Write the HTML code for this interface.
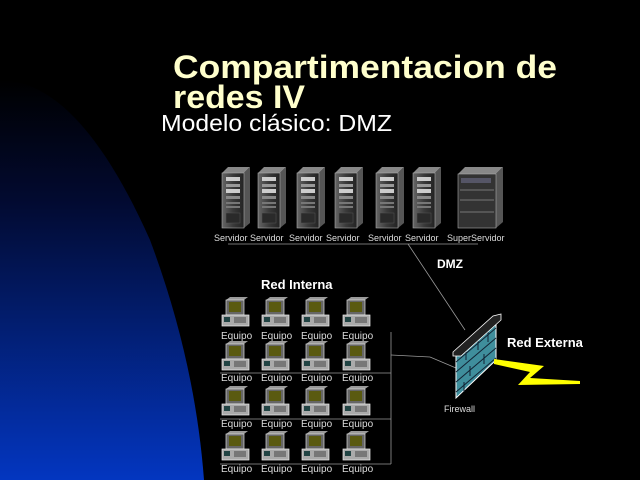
<!DOCTYPE html>
<html><head><meta charset="utf-8"><style>
html,body{margin:0;padding:0;background:#000;}
svg{display:block}
text{font-family:"Liberation Sans",sans-serif}
</style></head><body>
<svg width="640" height="480" viewBox="0 0 640 480" xmlns="http://www.w3.org/2000/svg">
<defs>
<linearGradient id="bg" x1="0" y1="0" x2="0" y2="1">
<stop offset="0" stop-color="#000"/>
<stop offset="0.3" stop-color="#020a30"/>
<stop offset="1" stop-color="#0336c0"/>
</linearGradient>
<linearGradient id="tw" x1="0" y1="0" x2="1" y2="0">
<stop offset="0" stop-color="#666"/><stop offset="0.5" stop-color="#3a3a3a"/><stop offset="1" stop-color="#222"/>
</linearGradient>
<g id="srv">
<polygon points="0,6 6,0 28,0 22,6" fill="#888"/>
<polygon points="22,6 28,0 28,56 22,61" fill="#555"/>
<rect x="0" y="6" width="22" height="55" fill="url(#tw)" stroke="#aaa" stroke-width="0.6"/>
<rect x="4" y="10" width="14" height="4" fill="#ccc"/>
<rect x="4" y="17" width="14" height="3" fill="#999"/>
<rect x="4" y="22" width="14" height="4" fill="#ccc"/>
<rect x="4" y="29" width="14" height="3" fill="#888"/>
<rect x="4" y="35" width="14" height="2" fill="#777"/>
<rect x="4" y="39" width="14" height="2" fill="#777"/>
<rect x="4" y="46" width="14" height="10" fill="#2a2a2a" stroke="#555" stroke-width="0.5"/>
</g>
<g id="pc">
<polygon points="4,3 8,0 26,0 22,3" fill="#999"/>
<rect x="4" y="3" width="18" height="15" fill="#666" stroke="#ddd" stroke-width="0.7"/>
<rect x="7" y="5" width="12" height="10" fill="#5a5a10"/>
<rect x="0" y="18" width="27" height="11" fill="#aaa" stroke="#eee" stroke-width="0.7"/>
<rect x="2" y="20" width="6" height="5" fill="#244"/>
<rect x="12" y="20" width="12" height="6" fill="#777"/>
</g>
</defs>
<rect width="640" height="480" fill="#000"/>
<path d="M0,80 C60,80 110,150 150,240 C180,320 198,400 204,480 L0,480 Z" fill="url(#bg)"/>

<text x="173" y="78" font-size="32" font-weight="bold" fill="#ffffcc" textLength="384" lengthAdjust="spacingAndGlyphs">Compartimentacion de</text>
<text x="173" y="108" font-size="32" font-weight="bold" fill="#ffffcc" textLength="132" lengthAdjust="spacingAndGlyphs">redes IV</text>
<text x="161" y="131" font-size="23" fill="#fff" textLength="231" lengthAdjust="spacingAndGlyphs">Modelo clásico: DMZ</text>

<use href="#srv" x="222" y="167"/>
<use href="#srv" x="258" y="167"/>
<use href="#srv" x="297" y="167"/>
<use href="#srv" x="335" y="167"/>
<use href="#srv" x="376" y="167"/>
<use href="#srv" x="413" y="167"/>
<g>
<polygon points="458,174 465,167 503,167 496,174" fill="#888"/>
<polygon points="496,174 503,167 503,222 496,228" fill="#555"/>
<rect x="458" y="174" width="38" height="54" fill="#333" stroke="#aaa" stroke-width="0.6"/>
<rect x="461" y="178" width="30" height="5" fill="#556"/>
<line x1="460" y1="190" x2="494" y2="190" stroke="#777"/>
<line x1="460" y1="200" x2="494" y2="200" stroke="#777"/>
<line x1="460" y1="212" x2="494" y2="212" stroke="#777"/>
</g>
<g font-size="9" fill="#ddd">
<text x="214" y="241">Servidor</text><text x="250" y="241">Servidor</text><text x="289" y="241">Servidor</text><text x="326" y="241">Servidor</text><text x="368" y="241">Servidor</text><text x="405" y="241">Servidor</text><text x="447" y="241">SuperServidor</text>
</g>
<g stroke="#999" stroke-width="0.8" fill="none">
<line x1="228" y1="244" x2="478" y2="244"/>
<line x1="408" y1="244" x2="465" y2="330"/>
<line x1="391" y1="332" x2="391" y2="464"/>
<line x1="391" y1="355" x2="430" y2="357"/>
<line x1="430" y1="357" x2="456" y2="368"/>
<line x1="220" y1="373" x2="391" y2="373"/>
<line x1="220" y1="419" x2="391" y2="419"/>
<line x1="220" y1="464" x2="391" y2="464"/>
</g>
<text x="437" y="268" font-size="12" font-weight="bold" fill="#fff">DMZ</text>
<text x="261" y="289" font-size="13" font-weight="bold" fill="#fff">Red Interna</text>

<g>
<use href="#pc" x="222" y="297"/><use href="#pc" x="262" y="297"/><use href="#pc" x="302" y="297"/><use href="#pc" x="343" y="297"/>
<use href="#pc" x="222" y="341"/><use href="#pc" x="262" y="341"/><use href="#pc" x="302" y="341"/><use href="#pc" x="343" y="341"/>
<use href="#pc" x="222" y="386"/><use href="#pc" x="262" y="386"/><use href="#pc" x="302" y="386"/><use href="#pc" x="343" y="386"/>
<use href="#pc" x="222" y="431"/><use href="#pc" x="262" y="431"/><use href="#pc" x="302" y="431"/><use href="#pc" x="343" y="431"/>
</g>
<g font-size="10" fill="#ddd">
<text x="221" y="339">Equipo</text><text x="261" y="339">Equipo</text><text x="301" y="339">Equipo</text><text x="342" y="339">Equipo</text>
<text x="221" y="381">Equipo</text><text x="261" y="381">Equipo</text><text x="301" y="381">Equipo</text><text x="342" y="381">Equipo</text>
<text x="221" y="427">Equipo</text><text x="261" y="427">Equipo</text><text x="301" y="427">Equipo</text><text x="342" y="427">Equipo</text>
<text x="221" y="472">Equipo</text><text x="261" y="472">Equipo</text><text x="301" y="472">Equipo</text><text x="342" y="472">Equipo</text>
</g>

<polygon points="456,352 496,318 496,360 456,398" fill="#3f8e9c" stroke="#fff" stroke-width="1"/>
<g stroke="#123" stroke-width="1">
<line x1="456" y1="362" x2="496" y2="328"/><line x1="456" y1="372" x2="496" y2="338"/>
<line x1="456" y1="382" x2="496" y2="348"/><line x1="456" y1="392" x2="496" y2="358"/>
<line x1="466" y1="350" x2="466" y2="360"/><line x1="478" y1="340" x2="478" y2="350"/>
<line x1="470" y1="366" x2="470" y2="376"/><line x1="484" y1="354" x2="484" y2="364"/>
<line x1="464" y1="382" x2="464" y2="392"/><line x1="488" y1="332" x2="488" y2="342"/>
</g>
<polygon points="453,352 493,316 501,314 501,320 461,356 453,356" fill="#222" stroke="#fff" stroke-width="0.8"/>
<text x="444" y="412" font-size="9" fill="#ddd">Firewall</text>
<text x="507" y="347" font-size="13" font-weight="bold" fill="#fff">Red Externa</text>
<polygon points="494,359 544,366 530,378 580,381 580,384 518,385 530,372 494,364" fill="#ffff00"/>
</svg>
</body></html>
